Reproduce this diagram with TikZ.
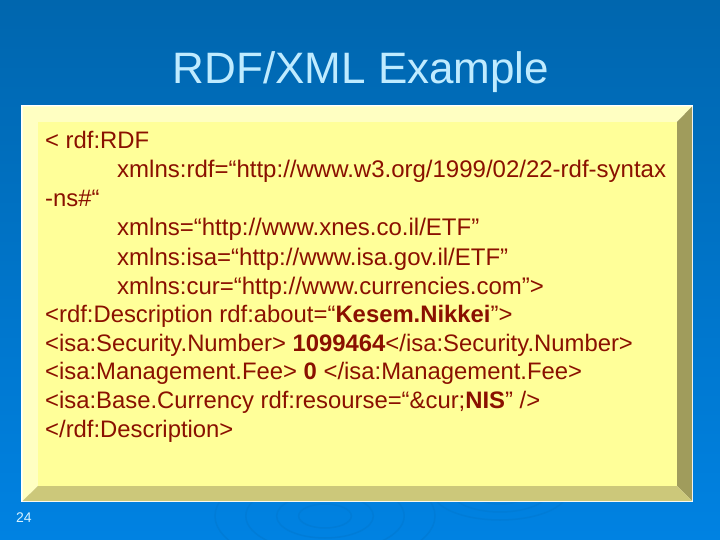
\documentclass[tikz,border=0pt]{standalone}
\usepackage{fontspec}
\setmainfont{Liberation Sans}
\usepackage{xcolor}
\usetikzlibrary{positioning,calc}
\definecolor{bgtop}{HTML}{0066AE}
\definecolor{bgbot}{HTML}{0082E2}
\definecolor{titleblue}{HTML}{BFEBFF}
\definecolor{codered}{HTML}{8A1000}
\definecolor{panelfill}{HTML}{FFFF99}
\definecolor{bevellight}{HTML}{FFFFC2}
\definecolor{bevelright}{HTML}{A09C5C}
\definecolor{bevelbottom}{HTML}{CCC87A}
\tikzset{
    codeline/.style={anchor=base west,inner sep=0pt,text=codered,font=\fontsize{23.85}{29}\selectfont},
    attrline/.style={codeline,font=\fontsize{24}{29}\selectfont},
    ripple/.style={bgbot!80!bgtop,line width=1.5pt},
}
\begin{document}
\begin{tikzpicture}[x=1pt,y=-1pt]
    \useasboundingbox (0,0) rectangle (720,540);
    % 背景
    \shade[top color=bgtop,bottom color=bgbot] (0,0) rectangle (720,540);
    \foreach \r in {12,22,36,50} {
        \draw[ripple] (325,516) ellipse ({\r*2.2} and {\r});
    }
    \foreach \r in {12,20,28} {
        \draw[ripple] (500,492) ellipse ({\r*2.4} and {\r});
    }

    % 标题
    \node[inner sep=0pt,text=titleblue,font=\fontsize{44}{50}\selectfont] (title) at (361,72) {RDF/XML Example};

    % 面板
    \fill[white] (21,105) rectangle (693,502);
    \fill[bevellight] (22.5,106.5) -- (692,106.5) -- (677,122) -- (38,122) -- (38,486) -- (22.5,501) -- cycle;
    \fill[bevelright] (692,106.5) -- (692,501) -- (677,486) -- (677,122) -- cycle;
    \fill[bevelbottom] (22.5,501) -- (692,501) -- (677,486) -- (38,486) -- cycle;
    \fill[panelfill] (38,122) rectangle (677,486);

    % 代码
    \node[codeline] (l1) at (45,149) {< rdf:RDF};
    \node[attrline] (l2) at (117,178) {xmlns:rdf=“http://www.w3.org/1999/02/22-rdf-syntax};
    \node[codeline] (l3) at (45,207) {-ns\#“};
    \node[attrline] (l4) at (117,236) {xmlns=“http://www.xnes.co.il/ETF”};
    \node[attrline] (l5) at (117,265) {xmlns:isa=“http://www.isa.gov.il/ETF”};
    \node[attrline] (l6) at (117,294) {xmlns:cur=“http://www.currencies.com”>};
    \node[codeline] (l7) at (45,322) {<rdf:Description rdf:about=“\textbf{Kesem.Nikkei}”>};
    \node[codeline] (l8) at (45,351) {<isa:Security.Number> \textbf{1099464}</isa:Security.Number>};
    \node[codeline] (l9) at (45,379) {<isa:Management.Fee> \textbf{0} </isa:Management.Fee>};
    \node[codeline] (l10) at (45,408) {<isa:Base.Currency rdf:resourse=“\&cur;\textbf{NIS}” />};
    \node[codeline] (l11) at (45,437) {</rdf:Description>};

    % 页码
    \node[anchor=base west,inner sep=0pt,text=titleblue!60!white,font=\fontsize{14}{16}\selectfont] (pageno) at (16,522) {24};
\end{tikzpicture}
\end{document}
